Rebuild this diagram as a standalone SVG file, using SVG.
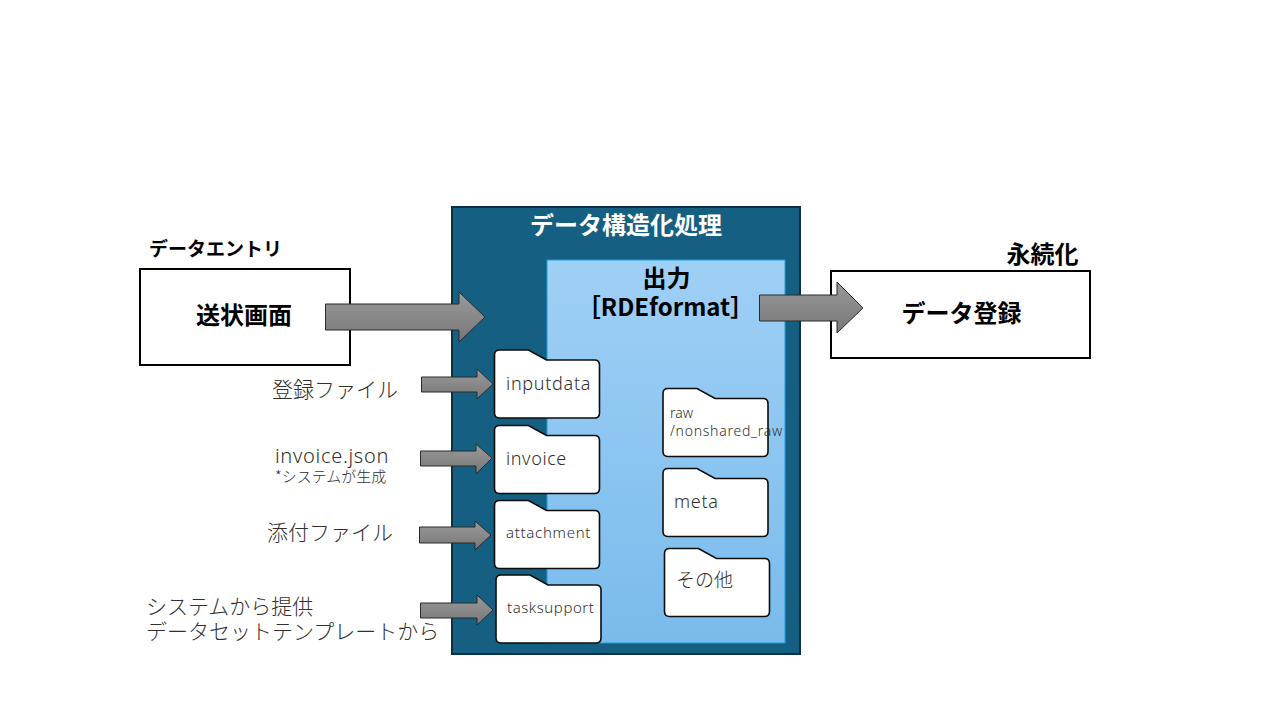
<svg xmlns="http://www.w3.org/2000/svg" xmlns:xlink="http://www.w3.org/1999/xlink" width="1280" height="720" viewBox="0 0 1280 720">
<style>
text{font-family:"Noto Sans","Noto Sans CJK JP",sans-serif;fill:#000}
.jp{font-family:"Noto Sans CJK JP","Noto Sans",sans-serif}
.box{fill:#fff;stroke:#000;stroke-width:2}
.folder{fill:#fff;stroke:#0c0c0c;stroke-width:1.6}
.arrow{fill:url(#ga);stroke:#2a2a2a;stroke-width:1}
.lt{fill:#303030;font-weight:300}
</style>
<defs>
<linearGradient id="ga" x1="0" y1="0" x2="0" y2="1"><stop offset="0" stop-color="#9a9a9a"/><stop offset="1" stop-color="#777"/></linearGradient>
<linearGradient id="gb" x1="0" y1="0" x2="0" y2="1"><stop offset="0" stop-color="#9fd0f6"/><stop offset="1" stop-color="#79bbec"/></linearGradient>
<path id="f" d="M0 5Q0 0 5 0H34L52 10H100Q105 10 105 15V63Q105 68 100 68H5Q0 68 0 63Z"/>
</defs>
<g id="entry"><rect class="box" x="140" y="269" width="210" height="96"/><text class="jp" x="244" y="324" font-size="24" font-weight="700" text-anchor="middle">送状画面</text></g>
<g id="entry-label"><text class="jp" x="215.500" y="256" font-size="19" font-weight="700" text-anchor="middle">データエントリ</text></g>
<g id="process"><rect x="452" y="207" width="348" height="447" fill="#156082" stroke="#0b3145" stroke-width="2"/><text class="jp" x="626" y="234" font-size="24" font-weight="700" text-anchor="middle" style="fill:#fff">データ構造化処理</text></g>
<g id="output"><rect x="547" y="260" width="238" height="383" fill="url(#gb)" stroke="#1a9fd6" stroke-width="1"/><text class="jp" x="666.500" y="287" font-size="24" font-weight="700" text-anchor="middle">出力</text><text class="jp" x="665.500" y="316" font-size="24" font-weight="700" text-anchor="middle">［RDEformat］</text></g>
<g id="register"><rect class="box" x="831" y="271" width="259" height="87"/><text class="jp" x="961.500" y="322" font-size="24" font-weight="700" text-anchor="middle">データ登録</text></g>
<g id="register-label"><text class="jp" x="1042.500" y="263" font-size="24" font-weight="700" text-anchor="middle">永続化</text></g>
<g id="f-inputdata"><use xlink:href="#f" class="folder" transform="translate(494.500 350)"/><text class="lt" x="506" y="390" font-size="18" letter-spacing="0.7">inputdata</text></g>
<g id="f-invoice"><use xlink:href="#f" class="folder" transform="translate(494.500 425.500)"/><text class="lt" x="506" y="465" font-size="18" letter-spacing="0.6">invoice</text></g>
<g id="f-attachment"><use xlink:href="#f" class="folder" transform="translate(494.500 500.500)"/><text class="lt" x="506" y="538" font-size="15" letter-spacing="0.7">attachment</text></g>
<g id="f-tasksupport"><use xlink:href="#f" class="folder" transform="translate(496 575)"/><text class="lt" x="507" y="613" font-size="15" letter-spacing="0.55">tasksupport</text></g>
<g id="f-raw"><use xlink:href="#f" class="folder" transform="translate(663 388.500)"/><text class="lt" x="670" y="418" font-size="14">raw</text><text class="lt" x="670" y="436" font-size="14" letter-spacing="0.75">/nonshared_raw</text></g>
<g id="f-meta"><use xlink:href="#f" class="folder" transform="translate(663 468.500)"/><text class="lt" x="674" y="508" font-size="18" letter-spacing="0.7">meta</text></g>
<g id="f-other"><use xlink:href="#f" class="folder" transform="translate(664.500 548.500)"/><text class="lt jp" x="676" y="587" font-size="19">その他</text></g>
<g id="in-labels">
<text class="lt jp" x="272" y="397" font-size="21">登録ファイル</text>
<text class="lt" x="275" y="463" font-size="20" letter-spacing="0.7">invoice.json</text>
<text class="lt jp" x="275" y="482" font-size="15">*システムが生成</text>
<text class="lt jp" x="267" y="540" font-size="21">添付ファイル</text>
<text class="lt jp" x="146" y="614" font-size="21">システムから提供</text>
<text class="lt jp" x="146" y="639" font-size="21">データセットテンプレートから</text>
</g>
<g id="connectors">
<path class="arrow" d="M325.500 304H459V292L485 317L459 342V330H325.500Z"/>
<path class="arrow" d="M759.500 295H837V282L863 308L837 333V321H759.500Z"/>
<path class="arrow" d="M421.500 377H477V369L493 384L477 399V392H421.500Z"/>
<path class="arrow" d="M420.500 451H476V444L492 458L476 474V466H420.500Z"/>
<path class="arrow" d="M419.500 527H475V521L491 535L475 550V543H419.500Z"/>
<path class="arrow" d="M420.500 603H477V595L493 610L477 625V618H420.500Z"/>
</g>
</svg>
